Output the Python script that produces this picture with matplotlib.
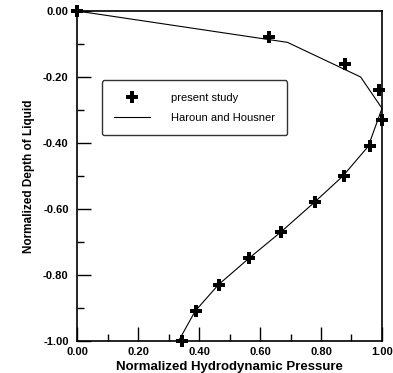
import matplotlib
matplotlib.use("Agg")
import matplotlib.pyplot as plt
from matplotlib.lines import Line2D

# Data
study_x = [0.0, 0.63, 0.88, 0.99, 1.0, 0.96, 0.875, 0.78, 0.67, 0.565, 0.465, 0.39, 0.345]
study_y = [0.0, -0.08, -0.16, -0.24, -0.33, -0.41, -0.50, -0.58, -0.67, -0.75, -0.83, -0.91, -1.0]
hh_x = [0.0, 0.69, 0.93, 1.0, 0.955, 0.872, 0.778, 0.668, 0.563, 0.463, 0.387, 0.333]
hh_y = [0.0, -0.095, -0.20, -0.295, -0.41, -0.50, -0.58, -0.67, -0.75, -0.83, -0.91, -1.0]

xticks = [0.0, 0.2, 0.4, 0.6, 0.8, 1.0]
xticklabels = ["0.00", "0.20", "0.40", "0.60", "0.80", "1.00"]
yticks = [0.0, -0.2, -0.4, -0.6, -0.8, -1.0]
yticklabels = ["0.00", "-0.20", "-0.40", "-0.60", "-0.80", "-1.00"]

plt.rcParams['font.family'] = ['Liberation Sans', 'DejaVu Sans']

fig = plt.figure(figsize=(3.93, 3.73), dpi=100)
ax = fig.add_axes([0.196, 0.0858, 0.776, 0.8847])

ax.plot(hh_x, hh_y, color='black', lw=0.8, label='Haroun and Housner', clip_on=False)
ax.plot(study_x, study_y, linestyle='none', marker='P', markersize=9,
        color='black', markeredgewidth=0, label='present study', clip_on=False, zorder=5)

ax.set_xlim(0, 1.0)
ax.set_ylim(-1.0, 0.0)
ax.set_xticks(xticks)
ax.set_xticklabels(xticklabels, fontsize=8, fontweight='bold')
ax.set_yticks(yticks)
ax.set_yticklabels(yticklabels, fontsize=8, fontweight='bold')
ax.set_xticks([0.1, 0.3, 0.5, 0.7, 0.9], minor=True)
ax.set_yticks([-0.1, -0.3, -0.5, -0.7, -0.9], minor=True)
ax.tick_params(which='major', direction='in', length=10, width=1.0)
ax.tick_params(axis='y', which='major', pad=6)
ax.tick_params(axis='x', which='major', pad=4)
ax.tick_params(which='minor', direction='in', length=5, width=1.0)
for s in ax.spines.values():
    s.set_linewidth(1.2)

ax.set_xlabel('Normalized Hydrodynamic Pressure', fontsize=9.5, fontweight='bold', labelpad=3)
ax.set_ylabel('Normalized Depth of Liquid', fontsize=8.5, fontweight='bold', labelpad=6)

handles = [Line2D([], [], linestyle='none', marker='P', markersize=9, color='black', markeredgewidth=0),
           Line2D([], [], color='black', lw=0.8)]
leg = ax.legend(handles, ['present study', 'Haroun and Housner'],
                loc='upper left', bbox_to_anchor=(0.082, 0.79),
                fontsize=8, frameon=True, fancybox=True, edgecolor='black',
                borderpad=1.1, handlelength=3.2, handletextpad=1.9,
                borderaxespad=0, labelspacing=0.9)
leg.get_frame().set_linewidth(1.0)

fig.savefig('out.png', dpi=100)
